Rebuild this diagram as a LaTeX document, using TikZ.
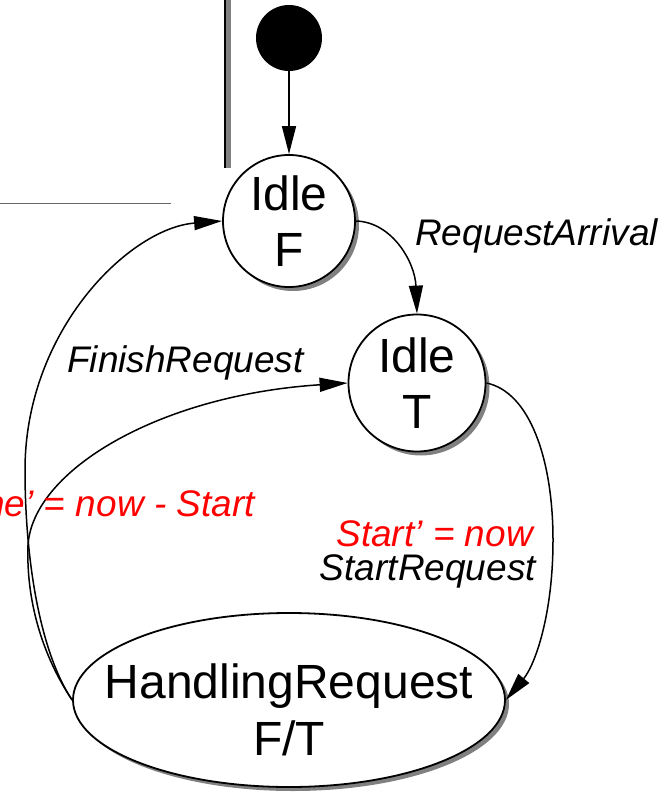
\documentclass[tikz,border=0pt]{standalone}
\usepackage{fontspec}
\setmainfont{Liberation Sans}
\usetikzlibrary{arrows.meta,shadows,shapes.geometric}
\definecolor{lblred}{RGB}{255,0,0}
\definecolor{shadowgray}{RGB}{128,128,128}
\begin{document}
\begin{tikzpicture}[x=1pt,y=-1pt,
  shadowed/.style={drop shadow={shadow xshift=4pt,shadow yshift=-4pt,fill=shadowgray,opacity=1}},
  state/.style={circle,draw,line width=1.8pt,fill=white,inner sep=0pt,align=center,
    font=\fontsize{48}{56}\selectfont,shadowed},
  bigstate/.style={ellipse,draw,line width=1.8pt,fill=white,inner sep=0pt,shadowed,
    minimum width=432pt,minimum height=174pt},
  statetext/.style={align=center,inner sep=0pt,font=\fontsize{48}{57}\selectfont},
  initial/.style={circle,fill=black,inner sep=0pt,minimum size=66pt},
  lbl/.style={inner sep=0pt,font=\fontsize{37}{44}\selectfont\itshape},
  redlbl/.style={lbl,text=lblred},
  conn/.style={line width=1.5pt,-{Triangle[length=28pt,width=14pt]}}
]
\useasboundingbox (0,0) rectangle (669,792);

% frame fragments
\fill[shadowgray] (226,0) rectangle (231,168);
\draw[line width=2pt] (224.5,0) -- (224.5,168);
\draw[line width=1pt,black!60] (0,203) -- (171,203);

% nodes
\node[initial] (init) at (289,38) {};
\node[state,minimum size=132pt] (idleF) at (289,221) {Idle\\F};
\node[state,minimum size=137pt] (idleT) at (417,383) {Idle\\T};
\node[bigstate] (hr) at (289,700) {};
\node[statetext] (hrtext) at (289,710) {HandlingRequest\\F/T};

% connectors
\draw[conn] (init.south) -- (idleF.north);
\draw[conn] (idleF.east) .. controls (392,222) and (415,262) .. (idleT.north);
\draw[conn] (idleT.east) .. controls (530,392) and (553,460) .. (553,540)
  .. controls (553,615) and (535,665) .. (hr.east);
\draw[conn] (hr.west) .. controls (40,652) and (25,560) .. (25,470)
  .. controls (25,330) and (130,228) .. (idleF.west);
\draw[conn] (hr.west) .. controls (42,655) and (26,600) .. (28,545)
  .. controls (33,470) and (160,395) .. (idleT.west);

% labels
\node[lbl,anchor=base west] (lreq) at (415,245) {RequestArrival};
\node[lbl,anchor=base west] (lfin) at (67,372) {FinishRequest};
\node[redlbl,anchor=base east] (lstart) at (533,546) {Start’ = now};
\node[lbl,anchor=base east] (lsreq) at (536,580) {StartRequest};
\node[redlbl,anchor=base east] (ltime) at (255,516) {ne’ = now - Start};
\end{tikzpicture}
\end{document}
